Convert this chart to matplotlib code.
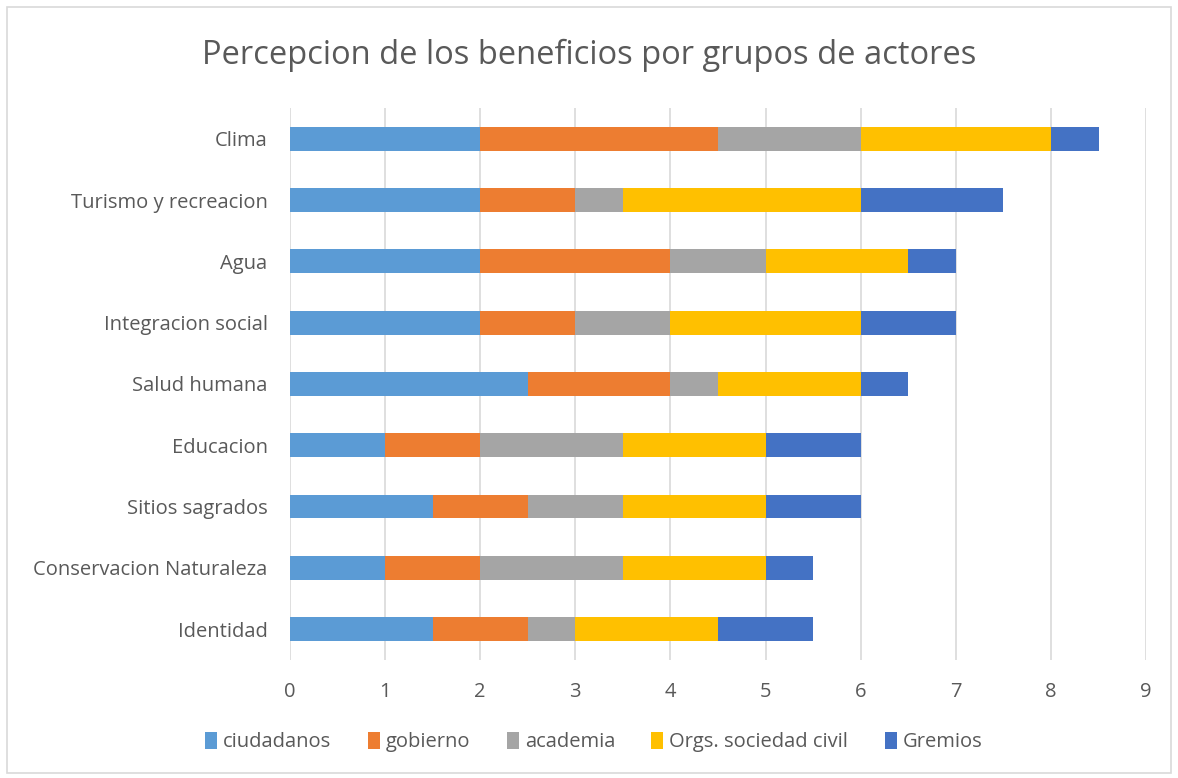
import matplotlib.pyplot as plt
from matplotlib.patches import Rectangle

categorias = ['Identidad', 'Conservacion Naturaleza', 'Sitios sagrados', 'Educacion',
              'Salud humana', 'Integracion social', 'Agua', 'Turismo y recreacion', 'Clima']
grupos = ['ciudadanos', 'gobierno', 'academia', 'Orgs. sociedad civil', 'Gremios']

ciudadanos = [1.5, 1.0, 1.5, 1.0, 2.5, 2.0, 2.0, 2.0, 2.0]
gobierno = [1.0, 1.0, 1.0, 1.0, 1.5, 1.0, 2.0, 1.0, 2.5]
academia = [0.5, 1.5, 1.0, 1.5, 0.5, 1.0, 1.0, 0.5, 1.5]
orgs_civil = [1.5, 1.5, 1.5, 1.5, 1.5, 2.0, 1.5, 2.5, 2.0]
gremios = [1.0, 0.5, 1.0, 1.0, 0.5, 1.0, 0.5, 1.5, 0.5]

colores = ['#5B9BD5', '#ED7D31', '#A5A5A5', '#FFC000', '#4472C4']
texto = '#595959'

plt.rcParams['font.family'] = ['Open Sans', 'DejaVu Sans']

fig = plt.figure(figsize=(11.78, 7.78), dpi=100)
ax = fig.add_axes([0.246, 0.152, 0.727, 0.709])

y = range(len(categorias))
izq = [0.0] * len(categorias)
for nombre, vals, col in zip(grupos, [ciudadanos, gobierno, academia, orgs_civil, gremios], colores):
    ax.barh(y, vals, left=izq, height=0.39, color=col, label=nombre, zorder=3)
    izq = [a + b for a, b in zip(izq, vals)]

ax.set_xlim(0, 9)
ax.set_ylim(-0.5, len(categorias) - 0.5)
ax.set_xticks(range(10))
ax.set_yticks(list(y))
ax.set_yticklabels(categorias)
ax.tick_params(length=0, labelsize=14.5, colors=texto)
ax.tick_params(axis='y', pad=16)
ax.tick_params(axis='x', pad=16)
ax.grid(axis='x', color='#D9D9D9', linewidth=1.2, zorder=0)
for s in ax.spines.values():
    s.set_visible(False)

fig.text(0.5, 0.929, 'Percepcion de los beneficios por grupos de actores',
         ha='center', va='center', fontsize=23.5, color=texto)

fig.legend(loc='center', bbox_to_anchor=(0.504, 0.046), ncol=5, frameon=False,
           fontsize=14.5, labelcolor=texto, handlelength=0.6, handleheight=0.9,
           handletextpad=0.3, columnspacing=1.8)

fig.patches.append(Rectangle((0.006, 0.006), 0.988, 0.985, transform=fig.transFigure,
                             fill=False, edgecolor='#D9D9D9', linewidth=1.2))

fig.savefig('out.png', dpi=100)
